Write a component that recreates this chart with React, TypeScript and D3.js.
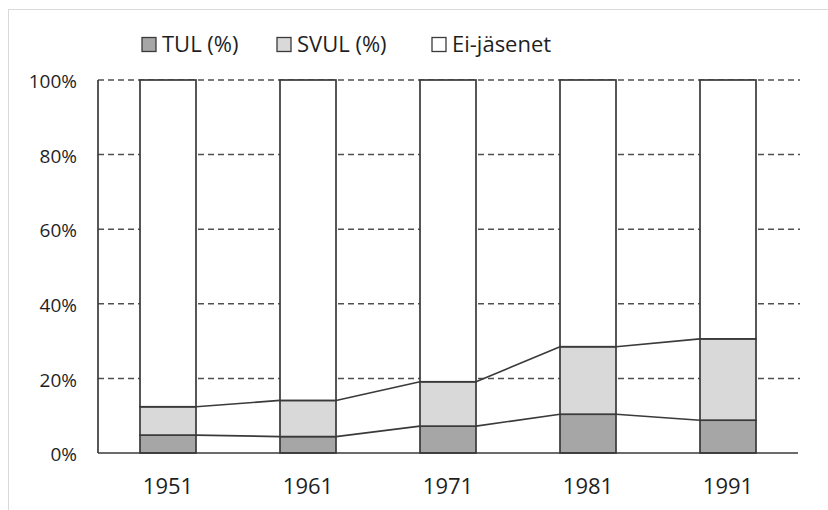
import React, { useEffect, useRef } from 'react';
import * as d3 from 'd3';

const years = ['1951', '1961', '1971', '1981', '1991'];
const tul = [4.8, 4.4, 7.2, 10.4, 8.8];
const svul = [7.6, 9.7, 11.9, 18.1, 21.8];
const seriesNames = ['TUL (%)', 'SVUL (%)', 'Ei-jäsenet'];
const seriesColors = ['#a6a6a6', '#d9d9d9', '#ffffff'];
const yTicks = [0, 20, 40, 60, 80, 100];

const App: React.FC = () => {
  const svgRef = useRef<SVGSVGElement>(null);

  useEffect(() => {
    if (!svgRef.current) return;
    const svg = d3.select(svgRef.current);
    svg.selectAll('*').remove();

    const font = '"Open Sans", sans-serif';
    const ink = '#3a3a3a';
    const textCol = '#1f1f1f';

    // chart frame
    svg.append('rect')
      .attr('x', 8.5).attr('y', 9.5)
      .attr('width', 840).attr('height', 520)
      .attr('fill', '#fff').attr('stroke', '#d9d9d9');

    const x = d3.scaleBand<string>().domain(years).range([98, 798]).paddingInner(0.6).paddingOuter(0.3);
    const y = d3.scaleLinear().domain([0, 100]).range([453, 80]);

    // gridlines
    svg.append('g').selectAll('line')
      .data(yTicks.filter(t => t > 0))
      .join('line')
      .attr('x1', 98).attr('x2', 800)
      .attr('y1', d => y(d)).attr('y2', d => y(d))
      .attr('stroke', '#505050').attr('stroke-width', 1.5)
      .attr('stroke-dasharray', '6,4');

    // y axis labels
    svg.append('g').selectAll('text')
      .data(yTicks)
      .join('text')
      .attr('x', 77).attr('y', d => y(d) + 1.5)
      .attr('dy', '0.35em')
      .attr('text-anchor', 'end')
      .attr('font-family', font).attr('font-size', 19).attr('fill', textCol)
      .text(d => `${d}%`);

    // stacks
    const rows = years.map((yr, i) => ({ year: yr, tul: tul[i], svul: svul[i], ei: 100 - tul[i] - svul[i] }));
    const stack = d3.stack<any>().keys(['tul', 'svul', 'ei']);
    const layers = stack(rows);

    // series lines between bars
    const bw = x.bandwidth();
    [0, 1].forEach(li => {
      const layer = layers[li];
      for (let i = 0; i < layer.length - 1; i++) {
        svg.append('line')
          .attr('x1', x(years[i])! + bw).attr('y1', y(layer[i][1]))
          .attr('x2', x(years[i + 1])!).attr('y2', y(layer[i + 1][1]))
          .attr('stroke', ink).attr('stroke-width', 1.6);
      }
    });

    layers.forEach((layer, li) => {
      svg.append('g').selectAll('rect')
        .data(layer)
        .join('rect')
        .attr('x', (d: any) => x(d.data.year)!)
        .attr('y', d => y(d[1]))
        .attr('width', bw)
        .attr('height', d => y(d[0]) - y(d[1]))
        .attr('fill', seriesColors[li])
        .attr('stroke', ink).attr('stroke-width', 1.7);
    });

    // axes lines
    svg.append('line').attr('x1', 98).attr('x2', 98).attr('y1', 80).attr('y2', 453)
      .attr('stroke', ink).attr('stroke-width', 1.7);
    svg.append('line').attr('x1', 98).attr('x2', 798).attr('y1', 453).attr('y2', 453)
      .attr('stroke', ink).attr('stroke-width', 1.7);

    // x labels
    svg.append('g').selectAll('text')
      .data(years)
      .join('text')
      .attr('x', d => x(d)! + bw / 2).attr('y', 494)
      .attr('text-anchor', 'middle')
      .attr('font-family', font).attr('font-size', 22).attr('fill', textCol)
      .text(d => d);

    // legend
    const legendX = [142, 277, 432];
    const lg = svg.append('g');
    seriesNames.forEach((name, i) => {
      lg.append('rect')
        .attr('x', legendX[i]).attr('y', 37.5)
        .attr('width', 14).attr('height', 14)
        .attr('fill', seriesColors[i]).attr('stroke', ink).attr('stroke-width', 1.3);
      lg.append('text')
        .attr('x', legendX[i] + 20).attr('y', 52)
        .attr('font-family', font).attr('font-size', 22).attr('fill', textCol)
        .text(name);
    });
  }, []);

  return <svg ref={svgRef} width={828} height={510} style={{ position: 'absolute', left: 0, top: 0 }} />;
};

export default App;
